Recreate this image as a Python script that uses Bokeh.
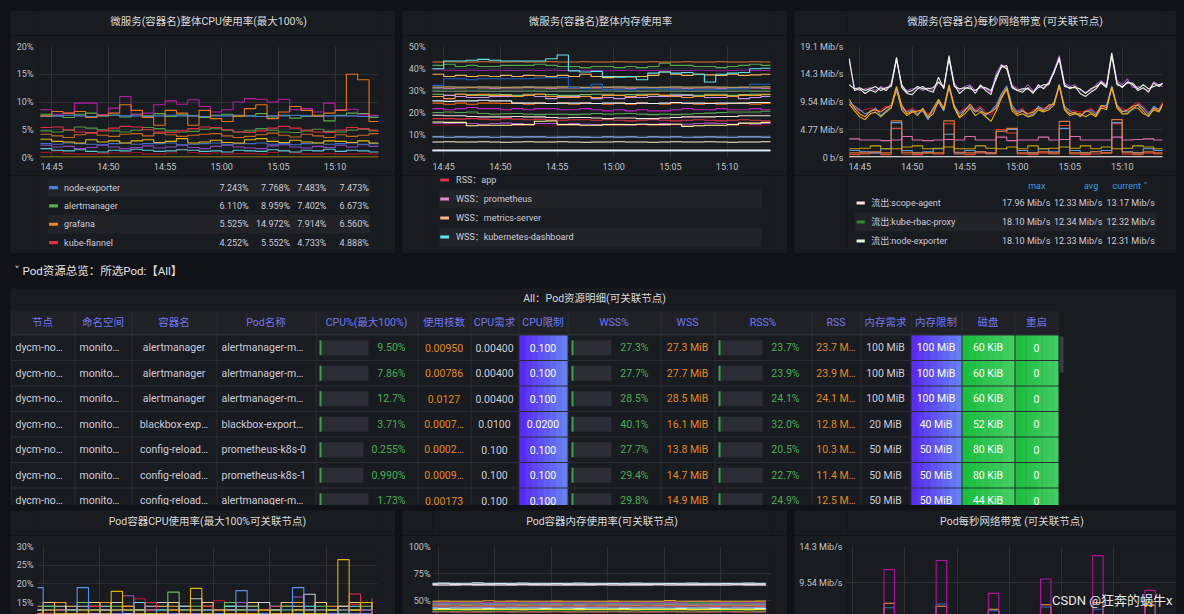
import pandas as pd
from bokeh.plotting import figure
from bokeh.layouts import row, column
from bokeh.models import Range1d, FixedTicker, DatetimeTickFormatter, Spacer, Grid, Label
from bokeh.core.properties import value
from bokeh.embed import file_html
from bokeh.resources import INLINE

# ====================== DATA ======================
DAY = "2023-03-01"
top_range = ("14:43:50", "15:13:50")
bot_range = ("14:44:30", "15:14:30")
bot_net_range = ("14:44:30", "15:16:02")
x_tick_labels = ["14:45", "14:50", "14:55", "15:00", "15:05", "15:10"]

cpu_ticks = [0, 5, 10, 15, 20]
cpu_tick_labels = ["0%", "5%", "10%", "15%", "20%"]
mem_ticks = [0, 10, 20, 30, 40, 50]
mem_tick_labels = ["0%", "10%", "20%", "30%", "40%", "50%"]
net_ticks = [0, 5, 10, 15, 20]          # in 10^6 bit/s
net_tick_labels = ["0 b/s", "4.77 Mib/s", "9.54 Mib/s", "14.3 Mib/s", "19.1 Mib/s"]
bcpu_ticks = [15, 20, 25, 30]
bcpu_tick_labels = ["15%", "20%", "25%", "30%"]
bmem_ticks = [50, 75, 100]
bmem_tick_labels = ["50%", "75%", "100%"]
bnet_ticks = [10, 15]
bnet_tick_labels = ["9.54 Mib/s", "14.3 Mib/s"]
MIB_TO_MBIT = 1.048576

# ---- CPU usage per container (%), 1-min samples from 14:44 ----
cpu_node_exporter = [7.4, 7.5, 7.6, 7.5, 7.4, 7.5, 7.6, 7.5, 7.5, 7.4, 7.5, 7.6, 7.5, 7.5, 7.4, 7.5, 7.5, 7.6, 7.5, 7.4, 7.5, 7.5, 7.6, 7.5, 7.4, 7.5, 7.5, 7.5, 7.4, 7.5, 7.5]
cpu_alertmanager = [7.8, 7.5, 7.2, 7.8, 8.0, 7.5, 7.6, 7.3, 7.8, 7.5, 7.9, 7.4, 7.7, 7.5, 7.2, 7.6, 7.8, 7.4, 7.5, 7.9, 7.3, 7.6, 7.1, 7.4, 7.6, 6.6, 7.6, 8.0, 7.9, 7.2, 6.6]
cpu_grafana = [7.5, 8.3, 8.0, 8.3, 7.2, 7.6, 8.0, 9.5, 8.5, 7.2, 5.8, 8.5, 8.0, 5.8, 8.5, 7.0, 6.5, 7.5, 8.8, 9.5, 7.0, 8.2, 9.2, 8.5, 7.5, 8.0, 8.5, 15.0, 14.0, 6.5, 7.0]
cpu_kube_flannel = [5.4, 5.5, 5.0, 4.6, 4.4, 4.8, 5.3, 5.6, 5.5, 5.0, 4.6, 4.5, 4.8, 5.2, 5.5, 5.4, 5.0, 4.6, 4.5, 4.8, 5.3, 5.6, 5.3, 4.9, 4.6, 4.5, 4.9, 5.4, 5.2, 4.9, 5.0]
cpu_prometheus = [8.6, 7.8, 8.0, 9.8, 9.8, 7.7, 8.9, 11.0, 7.8, 8.0, 9.5, 10.2, 9.6, 10.4, 9.2, 8.2, 8.6, 10.0, 10.6, 10.5, 10.0, 10.5, 8.6, 8.8, 8.2, 9.8, 8.6, 8.7, 7.7, 7.6, 7.6]
cpu_blackbox = [4.8, 4.6, 4.9, 5.5, 5.3, 5.0, 4.8, 4.6, 4.9, 5.4, 5.2, 4.8, 4.6, 4.7, 5.1, 5.3, 4.9, 4.6, 4.8, 5.2, 4.9, 4.6, 4.5, 4.8, 5.1, 4.7, 4.6, 4.9, 5.1, 4.8, 4.7]
cpu_config_reloader = [4.2, 3.9, 3.6, 4.1, 4.5, 4.0, 3.8, 4.2, 4.3, 3.9, 4.4, 4.1, 3.8, 4.0, 4.2, 4.3, 3.9, 3.6, 3.8, 4.1, 4.4, 4.0, 3.7, 4.2, 3.9, 3.6, 4.1, 3.8, 4.0, 4.3, 4.1]
cpu_kube_rbac = [3.3, 2.9, 2.8, 2.6, 3.2, 2.8, 3.0, 2.6, 3.0, 3.2, 2.7, 2.9, 3.4, 2.6, 2.8, 3.1, 2.7, 2.6, 3.2, 3.4, 2.9, 2.7, 3.1, 2.8, 2.6, 3.0, 2.9, 2.7, 3.0, 2.6, 2.8]
cpu_metrics_server = [2.5, 2.4, 2.6, 2.5, 2.4, 2.3, 2.5, 2.6, 2.4, 2.5, 2.5, 2.6, 2.3, 2.4, 2.5, 2.6, 2.4, 2.5, 2.5, 2.6, 2.4, 2.5, 2.3, 2.5, 2.6, 2.4, 2.5, 2.6, 2.4, 2.5, 2.5]
cpu_dashboard = [2.2, 1.9, 2.0, 1.6, 1.8, 2.2, 1.9, 1.6, 1.8, 2.1, 1.7, 1.9, 2.2, 1.8, 1.6, 2.0, 2.2, 1.9, 1.7, 1.6, 2.1, 2.3, 1.9, 1.7, 2.0, 1.8, 2.2, 1.9, 2.3, 2.0, 1.8]
cpu_scope_agent = [1.6, 1.3, 1.2, 1.4, 1.1, 1.0, 1.3, 1.2, 1.5, 1.3, 1.1, 1.2, 1.4, 1.3, 1.1, 1.2, 1.0, 1.3, 1.2, 1.1, 1.4, 1.2, 1.0, 1.3, 1.2, 1.5, 1.1, 1.3, 1.2, 1.0, 0.9]
cpu_coredns = [0.9, 1.0, 0.7, 0.6, 0.6, 0.7, 0.8, 0.8, 0.9, 0.6, 0.6, 0.8, 1.4, 0.9, 0.7, 0.8, 0.6, 0.7, 0.7, 0.6, 0.9, 1.3, 0.8, 0.6, 0.6, 0.7, 0.6, 0.6, 0.7, 0.6, 0.6]
cpu_app = [0.1, 0.1, 0.1, 0.1, 0.1, 0.1, 0.1, 0.1, 0.1, 0.1, 0.1, 0.1, 0.1, 0.1, 0.1, 0.1, 0.1, 0.1, 0.1, 0.1, 0.1, 0.1, 0.1, 0.1, 0.1, 0.1, 0.1, 0.1, 0.1, 0.1, 0.1]

cpu_legend_names = ["node-exporter", "alertmanager", "grafana", "kube-flannel"]
cpu_legend_min = [7.243, 6.110, 5.525, 4.252]
cpu_legend_max = [7.768, 8.959, 14.972, 5.552]
cpu_legend_avg = [7.483, 7.402, 7.914, 4.733]
cpu_legend_cur = [7.473, 6.673, 6.560, 4.888]

# ---- memory usage per container (%), 1-min samples ----
mem_grafana = [43.0, 43.1, 43.0, 43.0, 43.1, 43.0, 43.0, 43.1, 43.0, 43.0, 43.1, 43.0, 43.0, 43.1, 43.0, 43.0, 43.1, 43.0, 43.0, 43.1, 43.0, 43.0, 43.1, 43.0, 43.0, 43.1, 43.0, 43.0, 43.1, 43.0, 43.0]
mem_dashboard = [40.0, 43.5, 43.5, 43.8, 44.2, 43.8, 43.5, 43.5, 43.5, 43.5, 44.5, 46.2, 39.0, 38.5, 38.8, 36.5, 36.2, 36.5, 35.0, 38.0, 38.5, 38.0, 38.3, 37.5, 34.0, 37.5, 38.0, 38.3, 40.0, 40.2, 40.0]
mem_alertmanager = [41.5, 42.0, 41.0, 41.5, 41.0, 41.0, 41.5, 41.5, 41.5, 42.0, 41.5, 41.0, 41.0, 40.5, 41.0, 41.0, 40.5, 41.0, 40.5, 41.0, 42.5, 41.5, 41.5, 41.0, 41.0, 40.5, 41.0, 41.5, 42.0, 41.5, 41.5]
mem_node_exporter = [39.5, 39.3, 39.2, 39.3, 39.2, 39.3, 39.2, 39.2, 39.3, 39.2, 39.3, 39.2, 39.2, 39.3, 39.2, 39.1, 39.2, 39.3, 39.2, 39.2, 39.3, 39.2, 39.2, 39.3, 39.2, 39.1, 39.2, 39.3, 39.2, 39.2, 39.3]
mem_metrics_server = [37.5, 36.5, 37.0, 36.5, 36.8, 36.5, 37.0, 36.5, 37.0, 36.8, 36.5, 37.0, 36.5, 37.5, 36.5, 36.0, 36.5, 36.3, 36.5, 37.0, 38.5, 37.5, 37.0, 37.5, 37.2, 37.0, 37.5, 37.0, 37.2, 37.5, 37.0]
mem_blackbox = [32.5, 35.5, 35.5, 35.0, 35.5, 35.5, 35.5, 35.5, 35.5, 35.8, 36.0, 36.0, 31.5, 31.0, 33.0, 30.5, 30.5, 30.5, 31.0, 31.0, 31.0, 30.5, 30.5, 30.5, 30.5, 30.5, 31.0, 31.0, 33.0, 33.0, 31.0]
mem_kube_rbac = [31.7, 31.8, 31.7, 31.7, 31.8, 31.7, 31.6, 31.7, 31.8, 31.7, 31.7, 31.8, 31.7, 31.6, 31.7, 31.7, 31.8, 31.7, 31.7, 31.6, 31.7, 31.8, 31.7, 31.7, 31.8, 31.7, 31.6, 31.7, 31.7, 31.8, 31.7]
mem_prometheus = [31.3, 31.2, 31.3, 31.4, 31.3, 31.2, 31.3, 31.3, 31.4, 31.3, 31.2, 31.3, 31.3, 31.2, 31.3, 31.4, 31.3, 31.2, 31.3, 31.3, 31.4, 31.3, 31.2, 31.3, 31.3, 31.2, 31.3, 31.4, 31.3, 31.2, 31.3]
mem_config_reloader = [30.4, 30.5, 30.4, 30.3, 30.4, 30.5, 30.4, 30.4, 30.3, 30.4, 30.5, 30.4, 30.4, 30.3, 30.4, 30.5, 30.4, 30.4, 30.3, 30.4, 30.5, 30.4, 30.4, 30.3, 30.4, 30.5, 30.4, 30.4, 30.3, 30.4, 30.5]
mem_coredns = [29.8, 29.7, 29.8, 29.9, 29.8, 29.7, 29.8, 29.8, 29.9, 29.8, 29.7, 29.8, 29.8, 29.7, 29.8, 29.9, 29.8, 29.7, 29.8, 29.8, 29.9, 29.8, 29.7, 29.8, 29.8, 29.7, 29.8, 29.9, 29.8, 29.7, 29.8]
mem_scope_agent = [27.5, 26.5, 28.5, 28.0, 28.5, 28.0, 28.0, 27.5, 28.0, 28.5, 27.5, 27.5, 27.0, 27.5, 27.0, 28.0, 28.0, 27.5, 28.0, 28.5, 28.0, 27.5, 27.0, 27.5, 28.0, 28.0, 27.5, 28.0, 28.0, 28.5, 28.0]
mem_kube_state = [27.5, 28.0, 27.5, 27.0, 27.0, 27.5, 27.5, 27.5, 28.0, 27.5, 26.5, 27.0, 27.5, 27.5, 26.5, 27.0, 26.5, 27.0, 27.0, 27.5, 27.5, 28.0, 28.0, 27.5, 27.0, 27.0, 27.5, 26.5, 27.0, 27.5, 27.5]
mem_flannel = [28.5, 28.0, 28.5, 28.3, 28.0, 28.5, 28.3, 28.0, 28.5, 28.5, 28.3, 28.0, 28.0, 28.3, 28.5, 28.5, 28.0, 28.3, 28.5, 28.3, 28.0, 28.5, 28.3, 28.0, 28.5, 28.5, 28.0, 28.3, 28.5, 28.3, 28.5]
mem_operator = [25.5, 25.3, 25.5, 25.5, 25.8, 25.5, 25.5, 24.5, 24.5, 24.5, 24.3, 24.5, 24.5, 24.5, 24.3, 24.5, 24.5, 24.3, 24.5, 24.3, 24.5, 24.8, 24.5, 24.5, 24.3, 24.5, 24.5, 24.5, 24.7, 24.8, 25.0]
mem_adapter = [24.5, 24.0, 24.5, 24.0, 24.5, 24.5, 24.3, 24.5, 24.0, 24.5, 24.3, 24.5, 24.0, 24.5, 24.3, 24.0, 24.5, 24.0, 24.5, 24.3, 24.0, 24.5, 24.3, 24.0, 24.5, 24.0, 24.3, 24.5, 24.0, 24.3, 24.5]
mem_proxy = [22.0, 21.5, 22.0, 22.5, 22.0, 22.0, 21.5, 22.0, 21.5, 22.0, 22.0, 21.5, 21.5, 22.0, 21.5, 21.0, 21.5, 21.0, 21.5, 21.0, 21.0, 21.5, 22.0, 21.5, 21.5, 22.0, 21.5, 21.5, 22.0, 21.5, 21.5]
mem_dns = [20.3, 20.5, 20.3, 20.5, 19.8, 19.5, 19.7, 19.8, 19.5, 19.3, 19.5, 19.5, 19.3, 19.5, 19.8, 19.5, 19.7, 19.8, 19.5, 19.3, 19.5, 19.3, 19.5, 19.8, 20.0, 20.3, 20.5, 20.5, 20.5, 20.8, 21.0]
mem_scraper = [19.0, 18.8, 18.8, 18.5, 18.3, 18.3, 18.3, 18.5, 18.3, 18.3, 18.0, 17.8, 18.0, 18.0, 17.8, 17.5, 17.8, 17.8, 17.5, 17.5, 17.8, 18.0, 18.3, 18.3, 18.3, 18.5, 18.5, 18.8, 18.8, 18.8, 19.0]
mem_app = [17.5, 17.5, 17.3, 17.5, 17.3, 17.0, 17.5, 17.3, 17.0, 17.3, 17.0, 16.8, 17.0, 17.0, 16.8, 17.0, 16.8, 16.5, 16.8, 17.0, 16.8, 16.5, 16.8, 17.0, 16.8, 16.5, 16.8, 17.0, 16.8, 16.5, 16.8]
mem_webhook = [16.0, 15.8, 15.8, 14.3, 14.5, 14.5, 14.5, 14.8, 14.8, 16.3, 16.5, 14.8, 14.8, 14.5, 14.5, 14.8, 14.8, 14.8, 15.0, 14.8, 14.8, 15.0, 14.0, 14.3, 14.5, 14.5, 14.8, 15.5, 15.5, 15.8, 15.8]
mem_ingress = [15.5, 15.3, 15.5, 15.3, 15.0, 15.3, 15.5, 15.3, 15.0, 15.3, 15.3, 15.0, 15.3, 15.0, 14.8, 15.0, 15.0, 14.8, 15.0, 15.0, 15.3, 15.0, 15.0, 15.3, 15.5, 15.3, 15.0, 15.3, 15.0, 15.3, 15.5]
mem_kubelet = [14.5, 14.5, 14.3, 14.5, 14.3, 14.5, 14.5, 14.3, 14.5, 14.5, 14.3, 14.5, 14.5, 14.3, 14.5, 14.5, 14.3, 14.5, 14.5, 14.3, 14.5, 14.5, 14.3, 14.5, 14.5, 14.3, 14.5, 14.5, 14.3, 14.5, 14.5]
mem_sidecar = [9.3, 9.1, 9.3, 9.2, 9.3, 9.1, 9.3, 9.2, 9.3, 9.3, 9.1, 9.2, 9.3, 9.2, 9.1, 9.3, 9.2, 9.3, 9.1, 9.3, 9.2, 9.3, 9.1, 9.2, 9.3, 9.2, 9.1, 9.3, 9.3, 9.2, 9.1]
mem_pause = [7.0, 7.1, 7.0, 7.0, 7.1, 7.0, 6.9, 7.0, 7.1, 7.0, 7.0, 7.1, 7.0, 6.9, 7.0, 7.0, 7.1, 7.0, 7.0, 6.9, 7.0, 7.1, 7.0, 7.0, 7.1, 7.0, 6.9, 7.0, 7.0, 7.1, 7.0]
mem_init = [3.3, 3.3, 3.3, 3.3, 3.3, 3.3, 3.3, 3.3, 3.3, 3.3, 3.3, 3.3, 3.3, 3.3, 3.3, 3.3, 3.3, 3.3, 3.3, 3.3, 3.3, 3.3, 3.3, 3.3, 3.3, 3.3, 3.3, 3.3, 3.3, 3.3, 3.3]
mem_reloader = [3.0, 3.0, 3.0, 3.0, 3.0, 3.0, 3.0, 3.0, 3.0, 3.0, 3.0, 3.0, 3.0, 3.0, 3.0, 3.0, 3.0, 3.0, 3.0, 3.0, 3.0, 3.0, 3.0, 3.0, 3.0, 3.0, 3.0, 3.0, 3.0, 3.0, 3.0]

mem_legend_names = ["RSS：app", "WSS：prometheus", "WSS：metrics-server", "WSS：kubernetes-dashboard"]

# ---- network out per container (Mib/s), 30-s samples from 14:44 ----
net_scope_agent = [17.0, 11.5, 11.8, 11.0, 11.6, 11.2, 12.0, 11.5, 12.5, 17.2, 12.0, 11.0, 10.8, 11.8, 12.2, 11.5, 11.2, 13.8, 11.8, 17.5, 12.5, 11.0, 11.8, 12.2, 11.0, 12.5, 11.5, 10.8, 14.0, 15.5, 15.8, 12.0, 11.5, 11.2, 12.0, 11.0, 12.5, 11.8, 12.8, 14.5, 17.2, 12.5, 11.8, 12.2, 11.0, 10.5, 11.2, 11.8, 13.0, 12.2, 18.0, 12.8, 12.0, 13.0, 12.5, 11.5, 12.0, 11.2, 12.8, 12.2, 13.0]
net_kube_rbac = [16.5, 12.0, 11.5, 11.8, 12.0, 11.5, 12.2, 11.8, 12.8, 17.0, 12.2, 11.5, 11.8, 12.0, 11.5, 12.0, 11.5, 12.8, 12.2, 17.2, 12.8, 11.5, 12.2, 12.5, 11.5, 12.0, 11.8, 11.2, 14.5, 16.0, 15.5, 12.5, 11.8, 11.5, 12.5, 11.5, 12.2, 12.0, 13.0, 15.0, 17.5, 12.8, 12.2, 12.5, 11.5, 11.2, 11.5, 12.5, 13.2, 12.5, 17.8, 13.2, 12.5, 13.5, 12.0, 12.2, 11.8, 11.5, 13.0, 12.5, 12.0]
net_node_exporter = [12.5, 11.8, 12.0, 11.5, 11.8, 12.2, 11.5, 12.0, 12.2, 16.8, 12.5, 11.2, 11.5, 12.2, 11.8, 11.8, 12.0, 13.0, 12.0, 17.0, 12.2, 11.8, 12.0, 11.8, 11.5, 12.2, 12.0, 11.5, 13.5, 15.8, 15.2, 12.2, 11.5, 11.8, 11.8, 11.2, 12.0, 12.5, 12.5, 14.8, 16.8, 12.2, 12.0, 12.0, 11.8, 11.0, 11.8, 12.2, 12.8, 12.0, 17.5, 12.5, 12.2, 12.8, 12.8, 11.8, 12.5, 11.8, 12.2, 12.5, 12.8]
net_grafana = [9.5, 8.8, 8.2, 7.5, 7.8, 8.5, 7.2, 8.0, 8.8, 11.5, 8.5, 7.8, 8.2, 7.5, 8.0, 6.5, 8.2, 9.5, 8.0, 12.0, 9.0, 7.5, 8.2, 8.8, 7.8, 8.5, 7.2, 8.0, 9.0, 11.0, 12.3, 9.0, 7.8, 8.2, 7.0, 7.5, 8.8, 8.2, 8.5, 9.5, 12.5, 8.8, 8.0, 7.5, 7.2, 7.8, 8.2, 7.5, 8.8, 9.0, 12.2, 9.0, 8.0, 7.8, 8.2, 9.2, 8.5, 7.5, 8.8, 8.2, 9.5]
net_alertmanager = [10.0, 8.5, 7.5, 7.0, 8.0, 8.2, 7.8, 8.5, 9.0, 12.2, 9.0, 7.5, 8.0, 7.2, 8.5, 7.0, 8.5, 10.0, 8.5, 12.5, 8.8, 7.0, 8.0, 9.2, 8.0, 8.0, 7.5, 7.8, 8.5, 10.5, 12.0, 8.5, 7.5, 8.0, 7.5, 7.8, 8.5, 8.0, 9.0, 9.2, 12.3, 8.5, 7.5, 7.8, 7.0, 8.0, 7.8, 7.2, 9.0, 8.5, 12.0, 8.8, 7.8, 8.2, 8.8, 9.0, 8.0, 7.0, 8.5, 8.0, 9.8]
net_prometheus = [9.2, 8.0, 7.0, 6.5, 7.5, 7.8, 7.0, 7.8, 8.5, 12.0, 8.2, 7.2, 7.8, 8.0, 8.2, 6.8, 7.5, 9.8, 8.2, 12.3, 8.5, 6.8, 7.5, 8.5, 7.2, 7.8, 7.0, 6.2, 8.0, 10.2, 11.8, 8.0, 7.2, 7.5, 7.0, 7.2, 8.2, 7.8, 8.2, 9.0, 12.5, 8.2, 7.2, 7.5, 7.5, 7.0, 7.5, 7.0, 8.5, 8.2, 12.2, 8.5, 7.5, 7.5, 8.5, 8.5, 7.5, 7.2, 8.2, 7.8, 9.5]
net_app = [9.0, 8.5, 8.0, 8.2, 8.5, 8.0, 8.2, 8.8, 8.5, 11.8, 8.8, 8.0, 8.5, 7.8, 8.2, 7.5, 8.0, 9.5, 8.5, 11.8, 8.5, 7.8, 8.5, 8.5, 8.2, 8.8, 7.8, 7.2, 8.8, 10.8, 11.5, 8.5, 8.0, 8.5, 7.2, 8.2, 8.5, 8.5, 8.8, 9.2, 12.0, 8.5, 8.2, 8.0, 7.8, 8.0, 8.5, 7.8, 8.5, 8.8, 11.8, 8.8, 8.5, 8.0, 9.0, 9.5, 8.8, 7.8, 8.2, 8.5, 9.8]
# 1-min samples
net_dashboard = [3.2, 3.0, 3.0, 2.9, 3.0, 3.6, 3.0, 2.9, 3.0, 3.1, 3.0, 3.6, 3.0, 3.0, 3.5, 2.9, 3.0, 3.0, 3.5, 3.0, 3.1, 3.6, 3.0, 3.0, 3.0, 3.5, 3.0, 3.1, 3.2, 3.0, 3.0]
net_metrics_server = [1.5, 1.6, 2.0, 1.5, 1.5, 1.8, 2.0, 1.5, 1.6, 1.8, 1.5, 1.5, 2.0, 1.6, 1.5, 1.8, 1.5, 2.0, 1.5, 1.6, 1.8, 1.6, 2.0, 1.5, 1.8, 1.5, 1.6, 2.0, 1.8, 1.5, 1.8]
net_blackbox = [0.8, 0.8, 1.0, 0.8, 6.3, 0.9, 0.8, 0.8, 0.8, 6.3, 0.9, 0.8, 1.0, 0.8, 4.5, 5.0, 0.8, 0.8, 1.0, 0.8, 6.2, 0.8, 0.8, 1.0, 0.8, 6.5, 0.9, 0.8, 1.0, 0.8, 1.2]
net_config_reloader = [1.2, 1.0, 0.8, 1.5, 6.0, 1.2, 0.8, 1.0, 1.5, 4.0, 0.8, 1.2, 1.0, 0.8, 4.5, 4.8, 1.2, 0.8, 1.5, 1.0, 5.0, 1.2, 0.8, 1.0, 1.2, 6.0, 1.0, 0.8, 1.5, 1.2, 1.0]
net_flannel = [0.5, 0.6, 0.8, 0.5, 5.0, 0.6, 0.5, 0.8, 0.6, 5.8, 0.6, 0.5, 0.8, 0.6, 4.8, 4.2, 0.6, 0.5, 0.8, 0.6, 5.5, 0.6, 0.5, 0.6, 0.8, 5.8, 0.6, 0.5, 0.8, 0.6, 1.0]
net_coredns = [0.1, 0.1, 0.1, 0.1, 0.1, 0.1, 0.1, 0.1, 0.1, 0.1, 0.1, 0.1, 0.1, 0.1, 0.1, 0.1, 0.1, 0.1, 0.1, 0.1, 0.1, 0.1, 0.1, 0.1, 0.1, 0.1, 0.1, 0.1, 0.1, 0.1, 0.1]

net_legend_names = ["流出:scope-agent", "流出:kube-rbac-proxy", "流出:node-exporter"]
net_legend_headers = ["max", "avg", "current ˅"]
net_legend_max = [17.96, 18.10, 18.10]
net_legend_avg = [12.33, 12.34, 12.33]
net_legend_cur = [13.17, 12.32, 12.31]

# ---- Pod CPU (%) ----
pcpu_a = [19.0, 13.0, 12.0, 12.0, 19.0, 13.0, 12.0, 12.0, 13.0, 12.0, 12.0, 13.0, 12.0, 12.0, 12.0, 13.0, 12.0, 12.0, 18.2, 13.0, 12.0, 12.0, 12.0, 19.0, 13.0, 12.0, 12.0, 13.0, 12.0, 12.0, 12.0]
pcpu_b = [12.0, 13.0, 12.0, 12.0, 12.0, 13.0, 12.0, 18.0, 13.0, 12.0, 12.0, 12.0, 13.0, 12.0, 18.8, 12.0, 13.0, 12.0, 12.0, 12.0, 13.0, 12.0, 12.0, 13.0, 12.0, 12.0, 13.0, 26.5, 13.0, 15.0, 14.0]
pcpu_c = [13.0, 14.0, 12.0, 13.0, 15.0, 13.0, 12.0, 14.0, 13.0, 13.0, 12.0, 13.0, 17.8, 13.0, 14.0, 13.0, 12.0, 15.0, 13.0, 14.0, 12.0, 13.0, 14.0, 13.0, 12.0, 14.0, 13.0, 12.0, 13.0, 14.0, 13.0]
pcpu_d = [12.0, 12.0, 13.0, 12.0, 12.0, 14.0, 12.0, 12.0, 13.0, 12.0, 15.0, 12.0, 13.0, 12.0, 12.0, 14.0, 13.0, 12.0, 12.0, 13.0, 12.0, 14.0, 12.0, 13.0, 12.0, 12.0, 12.0, 12.0, 17.3, 12.0, 16.2]
pcpu_e = [13.0, 12.0, 14.0, 13.0, 14.0, 12.0, 13.0, 15.0, 12.0, 13.0, 14.0, 15.0, 13.0, 14.0, 16.0, 13.0, 12.0, 13.0, 14.0, 13.0, 15.0, 13.0, 12.0, 13.0, 17.2, 13.0, 12.0, 14.0, 13.0, 15.0, 13.0]
pcpu_f = [12.0, 13.0, 12.0, 13.0, 12.0, 12.0, 12.0, 12.0, 16.8, 12.0, 13.0, 12.0, 12.0, 13.0, 12.0, 12.0, 13.0, 12.0, 15.0, 12.0, 12.0, 13.0, 12.0, 16.5, 12.0, 12.0, 13.0, 12.0, 12.0, 13.0, 12.0]
pcpu_g = [14.0, 12.0, 15.0, 12.0, 13.0, 14.0, 15.0, 13.0, 14.0, 12.0, 13.0, 15.0, 14.0, 12.0, 13.0, 14.0, 12.0, 13.0, 15.0, 14.0, 13.0, 12.0, 14.0, 15.0, 13.0, 12.0, 14.0, 13.0, 12.0, 15.0, 14.0]
pcpu_h = [12.0, 14.0, 13.0, 12.0, 13.0, 12.0, 14.0, 13.0, 12.0, 15.0, 12.0, 13.0, 12.0, 14.0, 13.0, 12.0, 13.0, 14.0, 12.0, 13.0, 12.0, 14.0, 13.0, 12.0, 14.0, 12.0, 13.0, 12.0, 14.0, 13.0, 12.0]
pcpu_i = [13.0, 15.0, 13.0, 14.0, 12.0, 15.0, 13.0, 12.0, 14.0, 13.0, 15.0, 14.0, 15.0, 13.0, 12.0, 15.0, 13.0, 14.0, 13.0, 15.0, 12.0, 13.0, 15.0, 14.0, 13.0, 15.0, 13.0, 14.0, 15.0, 12.0, 15.0]
pcpu_j = [12.0, 12.0, 12.0, 12.0, 12.0, 13.0, 14.0, 12.0, 12.0, 16.0, 13.0, 12.0, 12.0, 12.0, 12.0, 12.0, 15.5, 12.0, 12.0, 12.0, 13.0, 12.0, 12.0, 12.0, 12.0, 12.0, 12.0, 12.0, 14.5, 12.0, 12.0]

# ---- Pod memory (%) ----
pmem_a = [66.3, 66.4, 66.3, 66.3, 66.8, 66.3, 66.2, 66.3, 66.4, 66.3, 66.3, 66.2, 66.3, 66.4, 66.3, 66.3, 66.2, 66.3, 66.4, 66.3, 66.3, 66.2, 66.3, 66.4, 66.3, 66.3, 66.2, 66.3, 66.4, 66.3, 66.6]
pmem_b = [65.5, 65.6, 65.5, 65.4, 65.5, 65.5, 65.6, 65.5, 65.4, 65.5, 65.5, 65.6, 65.5, 65.4, 65.5, 65.5, 65.6, 65.5, 65.4, 65.5, 65.5, 65.6, 65.5, 65.4, 65.5, 65.5, 65.6, 65.5, 65.4, 65.5, 65.5]
pmem_c = [64.6, 64.5, 64.6, 64.7, 64.6, 64.5, 64.6, 64.6, 64.7, 64.6, 64.5, 64.6, 64.6, 64.5, 64.6, 64.7, 64.6, 64.5, 64.6, 64.6, 64.7, 64.6, 64.5, 64.6, 64.6, 64.5, 64.6, 64.7, 64.6, 64.5, 64.6]
pmem_d = [49.8, 49.9, 49.8, 49.7, 49.8, 50.2, 49.8, 49.9, 49.8, 49.7, 49.8, 49.9, 49.8, 49.8, 49.7, 49.8, 49.9, 49.8, 49.7, 49.8, 49.8, 50.3, 49.8, 49.7, 49.8, 49.9, 49.8, 49.7, 49.8, 49.9, 49.8]
pmem_e = [49.0, 48.9, 49.0, 49.1, 49.0, 48.9, 49.0, 49.0, 49.1, 49.0, 48.9, 49.0, 49.0, 48.9, 49.0, 49.1, 49.0, 48.9, 49.0, 49.0, 49.1, 49.0, 48.9, 49.5, 49.6, 49.0, 49.0, 49.1, 49.0, 48.9, 49.0]
pmem_f = [48.2, 48.3, 48.2, 48.1, 48.2, 48.2, 48.3, 48.2, 48.1, 48.2, 48.2, 48.3, 48.2, 48.1, 48.2, 48.2, 48.3, 48.2, 48.1, 48.2, 48.2, 48.3, 48.2, 48.1, 48.2, 48.2, 48.3, 48.2, 48.1, 48.2, 48.2]
pmem_g = [47.2, 47.1, 47.2, 47.3, 47.2, 47.1, 47.2, 47.2, 47.3, 47.2, 47.1, 47.2, 47.2, 47.1, 47.2, 47.3, 47.2, 47.1, 47.2, 47.2, 47.3, 47.2, 47.1, 47.2, 47.2, 47.1, 47.2, 47.3, 47.2, 47.1, 47.2]
pmem_h = [46.3, 46.4, 46.3, 46.2, 46.3, 46.3, 46.4, 46.3, 46.2, 46.3, 46.3, 46.4, 46.3, 46.2, 46.3, 46.3, 46.4, 46.3, 46.2, 46.3, 46.3, 46.4, 46.3, 46.2, 46.3, 46.3, 46.4, 46.3, 46.2, 46.3, 46.3]
pmem_i = [45.4, 45.3, 45.4, 45.5, 45.4, 45.3, 45.4, 45.4, 45.5, 45.4, 45.3, 45.4, 45.4, 45.3, 45.4, 45.5, 45.4, 45.3, 45.4, 45.4, 45.5, 45.4, 45.3, 45.4, 45.4, 45.3, 45.4, 45.5, 45.4, 45.3, 45.4]
pmem_j = [44.4, 44.5, 44.4, 44.3, 44.4, 44.4, 44.5, 44.4, 44.3, 44.4, 44.4, 44.5, 44.4, 44.3, 44.4, 44.4, 44.5, 44.4, 44.3, 44.4, 44.4, 44.5, 44.4, 44.3, 44.4, 44.4, 44.5, 44.4, 44.3, 44.4, 44.4]
pmem_k = [43.3, 43.2, 43.3, 43.4, 43.3, 43.2, 43.3, 43.3, 43.4, 43.3, 43.2, 43.3, 43.3, 43.2, 43.3, 43.4, 43.3, 43.2, 43.3, 43.3, 43.4, 43.3, 43.2, 43.3, 43.3, 43.2, 43.3, 43.4, 43.3, 43.2, 43.3]
pmem_l = [42.2, 42.3, 42.2, 42.1, 42.2, 42.2, 42.3, 42.2, 42.1, 42.2, 42.2, 42.3, 42.2, 42.1, 42.2, 42.2, 42.3, 42.2, 42.1, 42.2, 42.2, 42.3, 42.2, 42.1, 42.2, 42.2, 42.3, 42.2, 42.1, 42.2, 42.2]
pmem_m = [41.0, 40.9, 41.0, 41.1, 41.0, 40.9, 41.0, 41.0, 41.1, 41.0, 40.9, 41.0, 41.0, 40.9, 41.0, 41.1, 41.0, 40.9, 41.0, 41.0, 41.1, 41.0, 40.9, 41.0, 41.0, 40.9, 41.0, 41.1, 41.0, 40.9, 41.0]
pmem_n = [40.0, 40.1, 40.0, 39.9, 40.0, 40.0, 40.1, 40.0, 39.9, 40.0, 40.0, 40.1, 40.0, 39.9, 40.0, 40.0, 40.1, 40.0, 39.9, 40.0, 40.0, 40.1, 40.0, 39.9, 40.0, 40.0, 40.1, 40.0, 39.9, 40.0, 40.0]

# ---- Pod network (Mib/s) ----
pnet_a = [2.0, 2.0, 2.0, 2.0, 11.25, 2.0, 2.0, 2.0, 2.0, 12.45, 2.0, 2.0, 2.0, 2.0, 8.1, 2.0, 2.0, 2.0, 2.0, 10.0, 2.0, 2.0, 2.0, 2.0, 13.1, 2.0, 2.0, 2.0, 2.0, 8.5, 2.0]
pnet_b = [1.0, 1.2, 1.0, 1.1, 6.8, 1.0, 1.2, 1.0, 1.1, 6.4, 1.0, 1.2, 1.0, 1.1, 6.0, 1.0, 1.2, 1.0, 1.1, 6.6, 1.0, 1.2, 1.0, 1.1, 6.9, 1.0, 1.2, 1.0, 1.1, 6.5, 1.0]
pnet_c = [0.8, 0.7, 0.8, 0.9, 6.2, 0.8, 0.7, 0.8, 0.9, 6.7, 0.8, 0.7, 0.8, 0.9, 5.8, 0.8, 0.7, 0.8, 0.9, 6.3, 0.8, 0.7, 0.8, 0.9, 6.0, 0.8, 0.7, 0.8, 0.9, 6.6, 0.8]
pnet_d = [0.5, 0.5, 0.6, 0.5, 5.0, 0.5, 0.6, 0.5, 0.5, 5.2, 0.6, 0.5, 0.5, 0.6, 5.1, 0.5, 0.5, 0.6, 0.5, 5.3, 0.5, 0.6, 0.5, 0.5, 5.0, 0.6, 0.5, 0.5, 0.6, 7.0, 0.5]

# ---- table ----
tab_title = "All：Pod资源明细(可关联节点)"
tab_headers = ["节点", "命名空间", "容器名", "Pod名称", "CPU%(最大100%)", "使用核数", "CPU需求", "CPU限制",
               "WSS%", "WSS", "RSS%", "RSS", "内存需求", "内存限制", "磁盘", "重启"]
tab_node = ["dycm-no…", "dycm-no…", "dycm-no…", "dycm-no…", "dycm-no…", "dycm-no…", "dycm-no…"]
tab_ns = ["monito…", "monito…", "monito…", "monito…", "monito…", "monito…", "monito…"]
tab_container = ["alertmanager", "alertmanager", "alertmanager", "blackbox-exp…", "config-reload…", "config-reload…", "config-reload…"]
tab_pod = ["alertmanager-m…", "alertmanager-m…", "alertmanager-m…", "blackbox-export…", "prometheus-k8s-0", "prometheus-k8s-1", "alertmanager-m…"]
tab_cpu_pct = ["9.50%", "7.86%", "12.7%", "3.71%", "0.255%", "0.990%", "1.73%"]
tab_cores = ["0.00950", "0.00786", "0.0127", "0.0007…", "0.0002…", "0.0009…", "0.00173"]
tab_cpu_req = ["0.00400", "0.00400", "0.00400", "0.0100", "0.100", "0.100", "0.100"]
tab_cpu_lim = ["0.100", "0.100", "0.100", "0.0200", "0.100", "0.100", "0.100"]
tab_wss_pct = ["27.3%", "27.7%", "28.5%", "40.1%", "27.7%", "29.4%", "29.8%"]
tab_wss = ["27.3 MiB", "27.7 MiB", "28.5 MiB", "16.1 MiB", "13.8 MiB", "14.7 MiB", "14.9 MiB"]
tab_rss_pct = ["23.7%", "23.9%", "24.1%", "32.0%", "20.5%", "22.7%", "24.9%"]
tab_rss = ["23.7 M…", "23.9 M…", "24.1 M…", "12.8 M…", "10.3 M…", "11.4 M…", "12.5 M…"]
tab_mem_req = ["100 MiB", "100 MiB", "100 MiB", "20 MiB", "50 MiB", "50 MiB", "50 MiB"]
tab_mem_lim = ["100 MiB", "100 MiB", "100 MiB", "40 MiB", "50 MiB", "50 MiB", "50 MiB"]
tab_disk = ["60 KiB", "60 KiB", "60 KiB", "52 KiB", "80 KiB", "80 KiB", "44 KiB"]
tab_restart = ["0", "0", "0", "0", "0", "0", "0"]

# ====================== STYLE ======================
PAGE = "#111217"
PANEL = "#181b1f"
ROWBG = "#212328"
TXT = "#ccccdc"
TITLE_C = "#d8d9da"
AXT = "#c0c4ca"
GRIDC = "#2b2e34"
HDR_C = "#7078f0"
HDR_BG = "#1f2126"
SEP = "#292c32"
GREEN_T = "#4dae55"
ORANGE_T = "#e38a1f"
BLUE_H = "#3d9ce8"
FONT = "Roboto, 'Noto Sans CJK SC', 'DejaVu Sans', sans-serif"

T1 = pd.date_range(f"{DAY} 14:44", periods=31, freq="min")
T30 = pd.date_range(f"{DAY} 14:44", periods=61, freq="30s")


def ts(s):
    return pd.Timestamp(f"{DAY} {s}")


def ms(s):
    return ts(s).value / 1e6


def canvas(w, h, bg=PANEL):
    return figure(width=w, height=h, x_range=Range1d(0, w), y_range=Range1d(h, 0),
                  x_axis_type=None, y_axis_type=None, min_border=0,
                  output_backend="svg", toolbar_location=None,
                  background_fill_color=bg, border_fill_color=bg, outline_line_color=None)


def put_text(f, xs, ys, texts, size, color, align="left", font=FONT, style="normal"):
    f.text(x=xs, y=ys, text=texts, text_font=value(font), text_font_size=value(size),
           text_color=color, text_align=align, text_baseline="middle", text_font_style=style)


def style_axis(ax, standoff, size="9px"):
    ax.axis_line_color = None
    ax.major_tick_line_color = None
    ax.minor_tick_line_color = None
    ax.major_tick_out = 0
    ax.major_tick_in = 0
    ax.minor_tick_out = 0
    ax.minor_tick_in = 0
    ax.major_label_text_font = FONT
    ax.major_label_text_font_size = size
    ax.major_label_text_color = AXT
    ax.major_label_standoff = standoff


def chart(w, h, ml, mr, mt, mb, xr, yr, yticks, ylabels, show_x, ystand):
    f = figure(width=w, height=h, x_axis_type="datetime" if show_x else None,
               x_range=Range1d(ts(xr[0]), ts(xr[1])), y_range=Range1d(*yr),
               min_border_left=ml, min_border_right=mr, min_border_top=mt, min_border_bottom=mb,
               output_backend="svg", toolbar_location=None,
               background_fill_color=PANEL, border_fill_color=PANEL, outline_line_color=None)
    xt = [ms(s) for s in x_tick_labels]
    if show_x:
        ax = f.xaxis[0]
        ax.ticker = FixedTicker(ticks=xt)
        ax.formatter = DatetimeTickFormatter(minsec="%H:%M", minutes="%H:%M", hourmin="%H:%M", hours="%H:%M")
        style_axis(ax, 4)
        f.xgrid.grid_line_color = GRIDC
    else:
        f.add_layout(Grid(dimension=0, ticker=FixedTicker(ticks=xt), grid_line_color=GRIDC))
    ay = f.yaxis[0]
    ay.ticker = FixedTicker(ticks=yticks)
    ay.major_label_overrides = dict(zip(yticks, ylabels))
    style_axis(ay, ystand)
    f.ygrid.grid_line_color = GRIDC
    return f


def draw_steps(f, times, series, scale=1.0, width=1.1):
    for color, vals in series:
        f.step(x=times[:len(vals)], y=[v * scale for v in vals], mode="after",
               line_color=color, line_width=width)


def draw_lines(f, times, series, scale=1.0, width=1.1):
    for color, vals in series:
        f.line(x=times[:len(vals)], y=[v * scale for v in vals], line_color=color, line_width=width)


def title_canvas(w, text):
    f = canvas(w, 25)
    put_text(f, [w / 2], [11], [text], "10.5px", TITLE_C, "center")
    return f


def legend_canvas(w, names, colors, top0, row_h, shaded, shade_x, sw_x, name_x,
                  val_cols=None, val_x=None, header=None, header_x=None, header_y=None):
    f = canvas(w, 78)
    n = len(names)
    tops = [top0 + row_h * i for i in range(n)]
    mids = [t + row_h / 2 for t in tops]
    st = [tops[i] for i in shaded]
    f.quad(left=shade_x[0], right=shade_x[1], top=st, bottom=[t + row_h for t in st],
           fill_color=ROWBG, line_color=None)
    f.quad(left=sw_x[0], right=sw_x[1], top=[m - 1.6 for m in mids], bottom=[m + 1.6 for m in mids],
           fill_color=colors, line_color=None)
    put_text(f, [name_x] * n, mids, names, "9px", TXT)
    if val_cols:
        for col, vx in zip(val_cols, val_x):
            put_text(f, [vx] * n, mids, col, "9px", TXT, "right")
    if header:
        put_text(f, header_x, [header_y] * len(header), header, "9px", BLUE_H, "right")
    return f


# ====================== TOP ROW ======================
# --- panel 1: CPU ---
c1 = chart(385, 140, 28, 17, 11, 18, top_range, (0, 20), cpu_ticks, cpu_tick_labels, True, 5)
draw_steps(c1, T1, [
    ("#b8a20a", cpu_app), ("#a3101f", cpu_coredns), ("#5dc6d6", cpu_scope_agent),
    ("#8a46c0", cpu_dashboard), ("#3f6fc4", cpu_metrics_server), ("#e5b70e", cpu_kube_rbac),
    ("#c9661a", cpu_config_reloader), ("#4e9a3c", cpu_blackbox), ("#e02f44", cpu_kube_flannel),
    ("#56b04a", cpu_alertmanager), ("#4f7fd6", cpu_node_exporter), ("#ba1aa9", cpu_prometheus),
    ("#e8761f", cpu_grafana),
])
cpu_legend_colors = ["#4f7fd6", "#56b04a", "#f2852e", "#e02f44"]
l1 = legend_canvas(385, cpu_legend_names, cpu_legend_colors, 3, 18.3, [0, 2], (10.7, 375), (12, 22), 29,
                   val_cols=[[f"{v:.3f}%" for v in cpu_legend_min], [f"{v:.3f}%" for v in cpu_legend_max],
                             [f"{v:.3f}%" for v in cpu_legend_avg], [f"{v:.3f}%" for v in cpu_legend_cur]],
                   val_x=[238, 285, 326, 374])
p1 = column(title_canvas(385, "微服务(容器名)整体CPU使用率(最大100%)"), c1, l1, spacing=0)

# --- panel 2: memory ---
c2 = chart(385, 140, 28, 17, 11, 18, top_range, (0, 50), mem_ticks, mem_tick_labels, True, 5)
draw_steps(c2, T1, [
    ("#c0d8ff", mem_reloader), ("#ffffff", mem_init), ("#fff2c8", mem_pause), ("#8ab8ff", mem_sidecar),
    ("#6e0a1e", mem_kubelet), ("#a352cc", mem_ingress), ("#fff899", mem_webhook), ("#e02f44", mem_app),
    ("#fce2de", mem_scraper), ("#56a64b", mem_dns), ("#c41ec4", mem_proxy), ("#fa6400", mem_adapter),
    ("#e6f5ff", mem_operator), ("#73bf69", mem_flannel), ("#ca95e5", mem_kube_state),
    ("#ff9830", mem_scope_agent), ("#5f7a6a", mem_coredns), ("#3f6833", mem_config_reloader),
    ("#e48bd8", mem_prometheus), ("#b59d5e", mem_kube_rbac), ("#1f60c4", mem_blackbox),
    ("#ffb357", mem_metrics_server), ("#8f1f9c", mem_node_exporter), ("#56a64b", mem_alertmanager),
    ("#e0752d", mem_grafana), ("#5ee6f0", mem_dashboard),
])
mem_legend_colors = ["#e02f44", "#e48bd8", "#fcb68a", "#5ee6f0"]
l2 = legend_canvas(385, mem_legend_names, mem_legend_colors, -5, 19, [1, 3], (9.7, 374.7), (11, 21), 29)
p2 = column(title_canvas(385, "微服务(容器名)整体内存使用率"), c2, l2, spacing=0)

# --- panel 3: network ---
c3 = chart(382, 140, 53, 14, 11, 18, top_range, (0, 20), net_ticks, net_tick_labels, True, 4)
draw_steps(c3, T1, [
    ("#ffffff", net_coredns), ("#e0402f", net_flannel), ("#5aa0e0", net_config_reloader),
    ("#e0752d", net_blackbox), ("#c8a20c", net_metrics_server), ("#e06db0", net_dashboard),
], scale=MIB_TO_MBIT)
draw_lines(c3, T30, [
    ("#c4162a", net_app), ("#5794f2", net_grafana), ("#ff9830", net_alertmanager), ("#e5b40e", net_prometheus),
    ("#a855c8", net_kube_rbac), ("#e0f9d7", net_node_exporter), ("#f4ecec", net_scope_agent),
], scale=MIB_TO_MBIT)
net_legend_colors = ["#fce2de", "#37872d", "#e0f9d7"]
l3 = legend_canvas(382, net_legend_names, net_legend_colors, 18, 19, [1], (9, 375), (11, 21), 28.7,
                   val_cols=[[f"{v:.2f} Mib/s" for v in net_legend_max], [f"{v:.2f} Mib/s" for v in net_legend_avg],
                             [f"{v:.2f} Mib/s" for v in net_legend_cur]],
                   val_x=[246, 309, 372.7], header=net_legend_headers, header_x=[240, 304, 364], header_y=10)
p3 = column(title_canvas(382, "微服务(容器名)每秒网络带宽 (可关联节点)"), c3, l3, spacing=0)

top_row = row(Spacer(width=10, height=243), p1, Spacer(width=7, height=243), p2,
              Spacer(width=7, height=243), p3, spacing=0)

# ====================== SECTION HEADER ======================
sec = canvas(1184, 35, bg=PAGE)
put_text(sec, [16.5], [17], ["˅"], "10px", TITLE_C, "center", font="DejaVu Sans")
put_text(sec, [22], [17], ["Pod资源总览：所选Pod:【All】"], "11.5px", "#e2e3e5", "left")

# ====================== TABLE ======================
tab = canvas(1166, 217)
put_text(tab, [584], [10], [tab_title], "10.5px", TITLE_C, "center")
edges = [0, 64, 121, 206, 305, 407, 460, 508, 557, 650, 704, 801, 850, 900, 951, 1004, 1048]
L, R = edges[:-1], edges[1:]
kinds = ["L", "L", "C", "L", "G", "C", "C", "blue", "G", "C", "G", "C", "C", "blue", "green", "green"]
tcolors = [TXT, TXT, TXT, TXT, GREEN_T, ORANGE_T, TXT, "#ffffff", GREEN_T, ORANGE_T, GREEN_T, ORANGE_T,
           TXT, "#ffffff", "#ffffff", "#ffffff"]
table_cols = [tab_node, tab_ns, tab_container, tab_pod, tab_cpu_pct, tab_cores, tab_cpu_req, tab_cpu_lim,
              tab_wss_pct, tab_wss, tab_rss_pct, tab_rss, tab_mem_req, tab_mem_lim, tab_disk, tab_restart]


def grad(c0, c1, n):
    out = []
    for k in range(n):
        t = k / (n - 1)
        out.append("#%02x%02x%02x" % tuple(int(round(a + (b - a) * t)) for a, b in zip(c0, c1)))
    return out


GRAD = {"blue": grad((0x58, 0x2c, 0xf4), (0x66, 0x80, 0xf2), 8),
        "green": grad((0x1c, 0xbe, 0x3e), (0x42, 0xcc, 0x64), 8)}
HDR_T, HDR_B, ROW0, ROW_H = 23, 45.5, 46, 25.5

tab.quad(left=0, right=1048, top=HDR_T, bottom=217, fill_color=SEP, line_color=None)
tab.quad(left=[l + 1 for l in L], right=R, top=HDR_T, bottom=HDR_B, fill_color=HDR_BG, line_color=None)
put_text(tab, [(l + r) / 2 for l, r in zip(L, R)], [(HDR_T + HDR_B) / 2] * len(L), tab_headers,
         "10.5px", HDR_C, "center")

ql, qr, qt, qb, qc = [], [], [], [], []
gl, gr, gt, gb = [], [], [], []
bl, br, bt, bb = [], [], [], []
txt_groups = {}
n_rows = len(tab_node)
for i in range(n_rows):
    y0 = ROW0 + ROW_H * i + 1
    y1 = ROW0 + ROW_H * (i + 1)
    ym = (y0 + y1) / 2
    for j in range(len(L)):
        kind = kinds[j]
        text = table_cols[j][i]
        if kind in GRAD:
            g = GRAD[kind]
            wcol = R[j] - L[j] - 1
            for k, c in enumerate(g):
                ql.append(L[j] + 1 + wcol * k / len(g))
                qr.append(L[j] + 1 + wcol * (k + 1) / len(g) + (0.4 if k < len(g) - 1 else 0))
                qt.append(y0)
                qb.append(y1)
                qc.append(c)
        else:
            ql.append(L[j] + 1)
            qr.append(R[j])
            qt.append(y0)
            qb.append(y1)
            qc.append(PANEL)
        if kind == "L":
            key, tx = "left", L[j] + 5
        elif kind == "G":
            gw = (R[j] - L[j]) - 28 - 5 * len(text)
            gl.append(L[j] + 4)
            gr.append(L[j] + 4 + gw)
            gt.append(ym - 7.5)
            gb.append(ym + 7.5)
            bl.append(L[j] + 4)
            br.append(L[j] + 6)
            bt.append(ym - 7.5)
            bb.append(ym + 7.5)
            key, tx = "right", R[j] - 12
        else:
            key, tx = "center", (L[j] + R[j]) / 2
        grp = txt_groups.setdefault(key, ([], [], [], []))
        grp[0].append(tx)
        grp[1].append(ym)
        grp[2].append(text)
        grp[3].append(tcolors[j])

tab.quad(left=ql, right=qr, top=qt, bottom=qb, fill_color=qc, line_color=None)
tab.quad(left=gl, right=gr, top=gt, bottom=gb, fill_color="#2a2d33", line_color=None)
tab.quad(left=bl, right=br, top=bt, bottom=bb, fill_color="#3a9e4a", line_color=None)
for align, (xs, ys, tx, cs) in txt_groups.items():
    put_text(tab, xs, ys, tx, "10.5px", cs, align)
tab.quad(left=1049, right=1053, top=48, bottom=84, fill_color="#3b3e44", line_color=None)

table_row = row(Spacer(width=10, height=217), tab, spacing=0)

# ====================== BOTTOM ROW ======================
b1 = chart(385, 79, 27, 18, 11, 0, bot_range, (11.8, 30), bcpu_ticks, bcpu_tick_labels, False, 4)
draw_steps(b1, T1, [
    ("#c4162a", pcpu_j), ("#ffcb7d", pcpu_i), ("#5ee6f0", pcpu_h), ("#ff9830", pcpu_g), ("#a352cc", pcpu_f),
    ("#ccccdc", pcpu_e), ("#e02f44", pcpu_d), ("#73bf69", pcpu_c), ("#5794f2", pcpu_a), ("#e0b400", pcpu_b),
])
bp1 = column(title_canvas(385, "Pod容器CPU使用率(最大100%可关联节点)"), b1, spacing=0)

b2 = chart(385, 79, 30, 16, 11, 0, bot_range, (37.6, 100), bmem_ticks, bmem_tick_labels, False, 2)
draw_steps(b2, T1, [
    ("#ff7383", pmem_n), ("#37872d", pmem_m), ("#fade2a", pmem_l), ("#c8f2c2", pmem_k), ("#8ab8ff", pmem_j),
    ("#f2495c", pmem_i), ("#ff9830", pmem_h), ("#5794f2", pmem_g), ("#73bf69", pmem_f), ("#c41ec4", pmem_e),
    ("#e5ac0e", pmem_d), ("#f2c6e6", pmem_c), ("#ffffff", pmem_b), ("#c6f1f7", pmem_a),
])
bp2 = column(title_canvas(385, "Pod容器内存使用率(可关联节点)"), b2, spacing=0)

# frame reaches the panel's right edge so the overlaid watermark is not clipped
b3 = chart(382, 79, 53, 0, 11, 0, bot_net_range, (5.56, 15), bnet_ticks, bnet_tick_labels, False, 5)
draw_steps(b3, T1, [
    ("#37872d", pnet_d), ("#1f78c1", pnet_c), ("#ff9830", pnet_b), ("#b3129f", pnet_a),
], scale=MIB_TO_MBIT)
b3.add_layout(Label(x=ms("15:04:06"), y=7.5, text="CSDN @狂奔的蜗牛x", text_font=FONT,
                    text_font_size="13px", text_color="#e6e6e6", text_baseline="middle"))
bp3 = column(title_canvas(382, "Pod每秒网络带宽 (可关联节点)"), b3, spacing=0)

bottom_row = row(Spacer(width=10, height=104), bp1, Spacer(width=7, height=104), bp2,
                 Spacer(width=7, height=104), bp3, spacing=0)

root = column(Spacer(width=1184, height=10), top_row, sec, table_row, Spacer(width=1184, height=5),
              bottom_row, spacing=0)

html = file_html(root, INLINE, title="Grafana")
html = html.replace("</head>", "<style>html,body{margin:0;padding:0;background:#111217;overflow:hidden}</style></head>", 1)
open("out.html", "w", encoding="utf-8").write(html)
